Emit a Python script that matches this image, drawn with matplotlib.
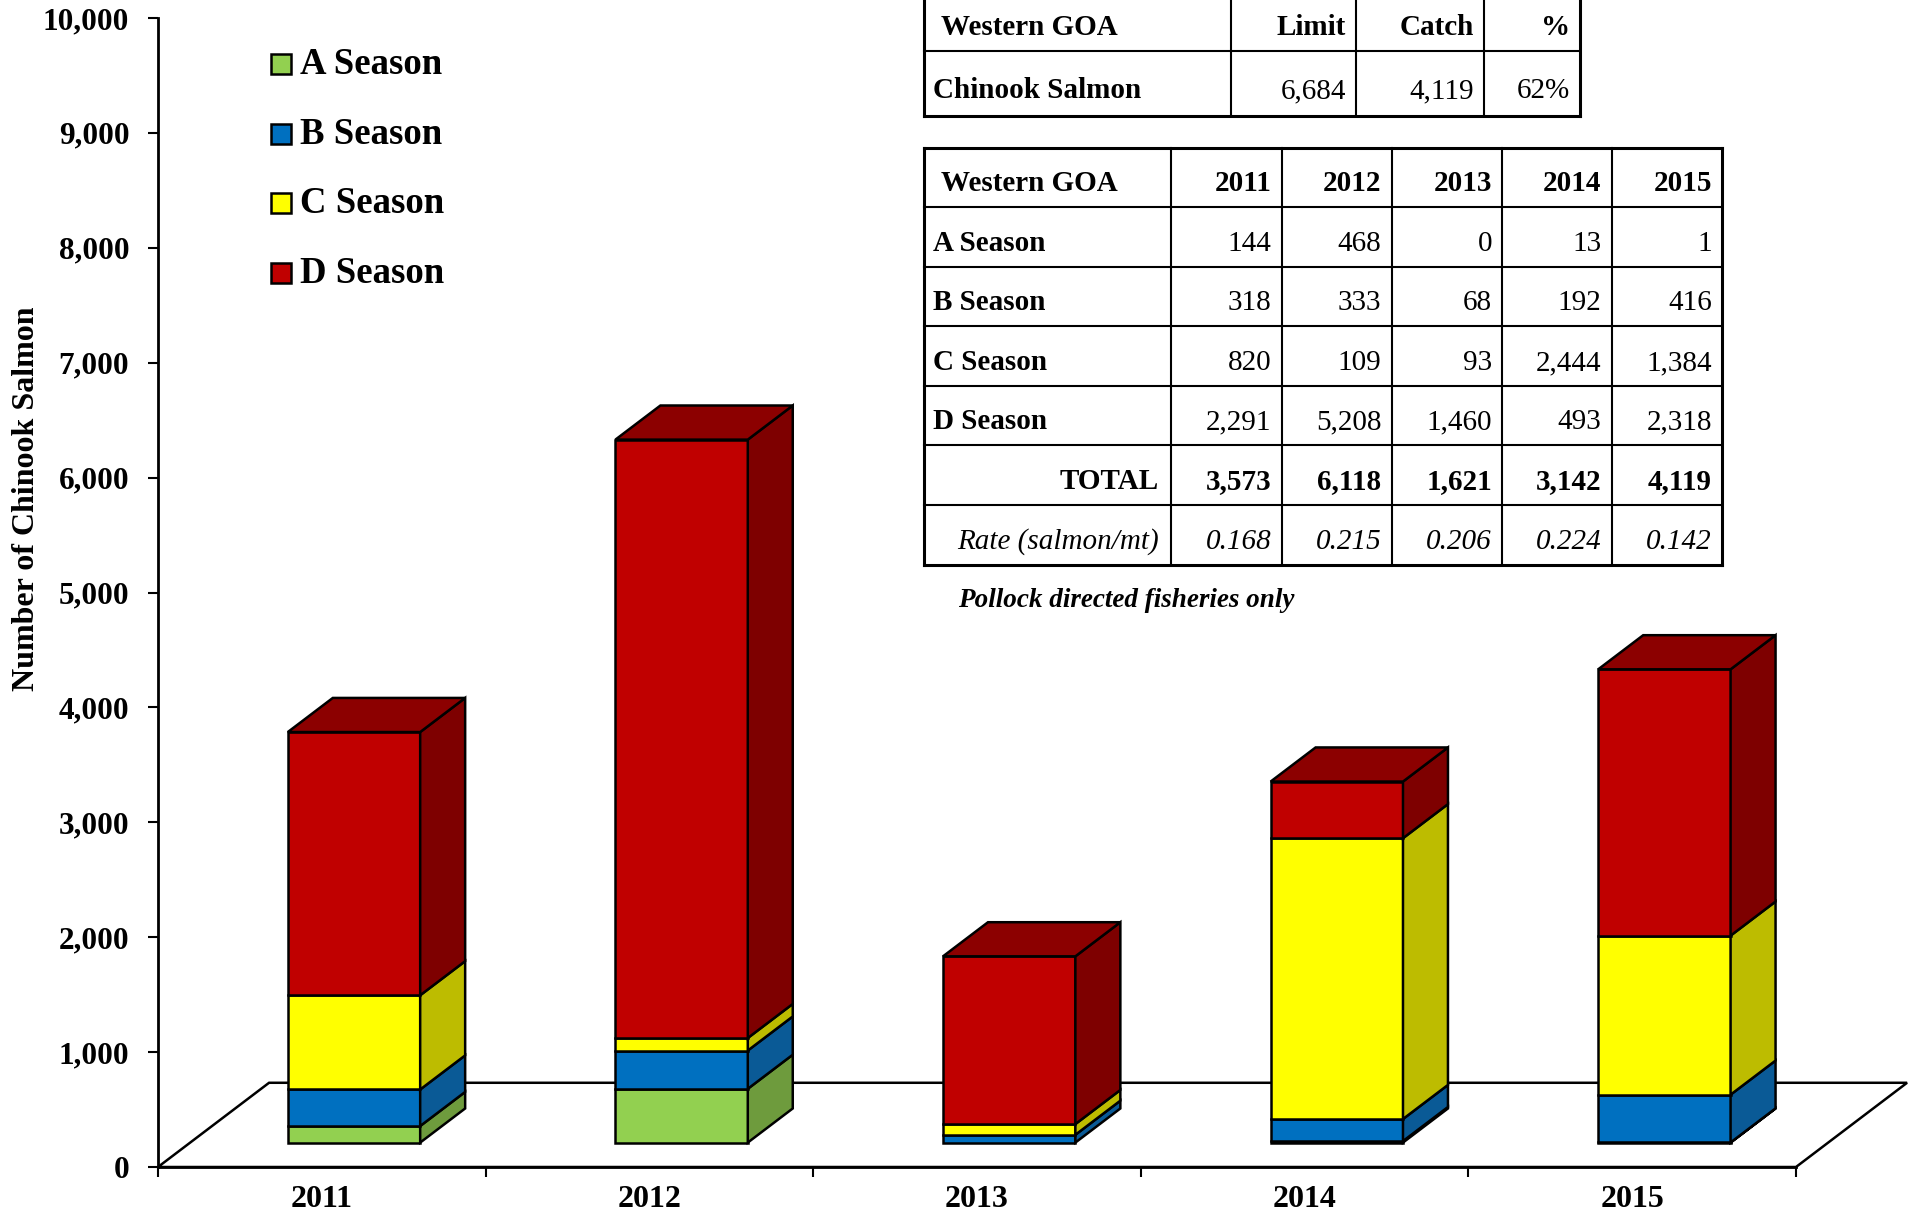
import matplotlib
matplotlib.use('Agg')
import matplotlib.pyplot as plt
from matplotlib.patches import Polygon, Rectangle
from matplotlib.ticker import FuncFormatter

# ---------------- data ----------------
years = ['2011', '2012', '2013', '2014', '2015']
seasons = ['A Season', 'B Season', 'C Season', 'D Season']
a_season = [144, 468, 0, 13, 1]
b_season = [318, 333, 68, 192, 416]
c_season = [820, 109, 93, 2444, 1384]
d_season = [2291, 5208, 1460, 493, 2318]
rates = [0.168, 0.215, 0.206, 0.224, 0.142]
limit_value = 6684
catch_value = 4119
yticks = list(range(0, 10001, 1000))

series = [a_season, b_season, c_season, d_season]
totals = [sum(v) for v in zip(*series)]

# ---------------- styles ----------------
front_colors = ['#92D050', '#0070C0', '#FFFF00', '#C00000']
side_colors = ['#6E9B3D', '#0A5A96', '#BDBC00', '#7E0000']
top_colors = ['#7FB545', '#0A63A8', '#D6D400', '#8C0000']

FONT = 'Liberation Serif'
plt.rcParams['font.family'] = [FONT, 'DejaVu Serif']

W, H = 1917, 1218
fig = plt.figure(figsize=(W / 100, H / 100), dpi=100)
fig.patch.set_facecolor('white')

ax = fig.add_axes([158 / W, 51 / H, 1638 / W, 1149 / H])
ax.set_xlim(0, 5)
ax.set_ylim(0, 10000)
ax.patch.set_alpha(0)

# 3-D geometry (depth in data units)
FLOOR_DX, FLOOR_DY = 0.339, 733
OFF = 0.29      # fraction of depth where bar front sits
DEPTH = 0.405   # fraction of depth taken by bar
BAR_W = 0.404

# floor
floor = Polygon([(0, 0), (5, 0), (5 + FLOOR_DX, FLOOR_DY), (FLOOR_DX, FLOOR_DY)],
                closed=True, facecolor='white', edgecolor='black', lw=1.8,
                clip_on=False, zorder=1)
ax.add_patch(floor)

odx, ody = OFF * FLOOR_DX, OFF * FLOOR_DY
ddx, ddy = DEPTH * FLOOR_DX, DEPTH * FLOOR_DY
EDGE = 1.8
for i in range(len(years)):
    c = i + 0.5
    xl = c - BAR_W / 2 + odx
    xr = c + BAR_W / 2 + odx
    bottom = 0
    top_idx = max(k for k in range(4) if series[k][i] > 0)
    for k in range(4):
        v = series[k][i]
        if v <= 0:
            continue
        yb = ody + bottom
        yt = ody + bottom + v
        ax.add_patch(Rectangle((xl, yb), xr - xl, v, facecolor=front_colors[k],
                               edgecolor='black', lw=EDGE, zorder=3, clip_on=False))
        ax.add_patch(Polygon([(xr, yb), (xr + ddx, yb + ddy), (xr + ddx, yt + ddy), (xr, yt)],
                             closed=True, facecolor=side_colors[k], edgecolor='black',
                             lw=EDGE, zorder=3, clip_on=False))
        if k == top_idx:
            ax.add_patch(Polygon([(xl, yt), (xl + ddx, yt + ddy), (xr + ddx, yt + ddy), (xr, yt)],
                                 closed=True, facecolor=top_colors[k], edgecolor='black',
                                 lw=EDGE, zorder=3, clip_on=False))
        bottom += v

# axes styling
for s in ['top', 'right']:
    ax.spines[s].set_visible(False)
ax.spines['left'].set_linewidth(2)
ax.spines['bottom'].set_linewidth(2)
ax.spines['left'].set_zorder(5)
ax.spines['bottom'].set_zorder(5)

ax.set_yticks(yticks)
ax.yaxis.set_major_formatter(FuncFormatter(lambda v, p: f'{int(v):,}'))
ax.tick_params(axis='y', direction='out', length=7.2, width=1.5, pad=13.5,
               labelsize=22.5)
for t in ax.get_yticklabels():
    t.set_fontweight('bold')

ax.set_xticks(range(6))
ax.set_xticklabels([])
ax.set_xticks([i + 0.5 for i in range(5)], minor=True)
ax.set_xticklabels(years, minor=True, fontsize=23, fontweight='bold')
ax.tick_params(axis='x', which='major', direction='out', length=7.2, width=1.5)
ax.tick_params(axis='x', which='minor', length=0, pad=13)

fig.text(27 / W, 1 - 499 / H, 'Number of Chinook Salmon', rotation=90,
         ha='center', va='center', fontsize=23, fontweight='bold')

# ---------------- overlay (legend & tables) in pixel coords ----------------
ov = fig.add_axes([0, 0, 1, 1], zorder=10)
ov.set_xlim(0, W)
ov.set_ylim(H, 0)
ov.axis('off')
ov.patch.set_alpha(0)

leg_y = [54, 124, 193, 263]
for k, name in enumerate(seasons):
    ov.add_patch(Rectangle((271, leg_y[k]), 20, 20, facecolor=front_colors[k],
                           edgecolor='black', lw=1.8))
    ov.text(300, leg_y[k] + 20, name, fontsize=26.5, fontweight='bold',
            ha='left', va='baseline')


def grid(xs, ys, lw_in=1.5, lw_out=2.2):
    for j, x in enumerate(xs):
        lw = lw_out if j in (0, len(xs) - 1) else lw_in
        ov.plot([x, x], [ys[0], ys[-1]], color='black', lw=lw, clip_on=False,
                solid_capstyle='projecting')
    for j, y in enumerate(ys):
        lw = lw_out if j in (0, len(ys) - 1) else lw_in
        ov.plot([xs[0], xs[-1]], [y, y], color='black', lw=lw, clip_on=False,
                solid_capstyle='projecting')


FS = 21
PAD = 10

# table 1
t1x = [924, 1231, 1356, 1484, 1580]
t1y = [-14, 51, 116]
grid(t1x, t1y)
ov.text(941, 35, 'Western GOA', fontsize=FS, fontweight='bold', ha='left', va='baseline')
for j, lab in enumerate(['Limit', 'Catch', '%']):
    ov.text(t1x[j + 2] - PAD, 35, lab, fontsize=FS, fontweight='bold', ha='right', va='baseline')
ov.text(933, 98, 'Chinook Salmon', fontsize=FS, fontweight='bold', ha='left', va='baseline')
pct = round(100 * catch_value / limit_value)
for j, val in enumerate([f'{limit_value:,}', f'{catch_value:,}', f'{pct}%']):
    ov.text(t1x[j + 2] - PAD, 98, val, fontsize=FS, ha='right', va='baseline')

# table 2
t2x = [924, 1171, 1281.5, 1391.5, 1502, 1611.5, 1722]
t2y = [147.6, 207.1, 266.7, 326.2, 385.7, 445.2, 504.8, 565.1]
grid(t2x, t2y)


def base(r):
    return (t2y[r] + t2y[r + 1]) / 2 + 14


ov.text(941, base(0), 'Western GOA', fontsize=FS, fontweight='bold', ha='left', va='baseline')
for j, y in enumerate(years):
    ov.text(t2x[j + 2] - PAD, base(0), y, fontsize=FS, fontweight='bold', ha='right', va='baseline')
for k, name in enumerate(seasons):
    ov.text(933, base(k + 1), name, fontsize=FS, fontweight='bold', ha='left', va='baseline')
    for j in range(5):
        ov.text(t2x[j + 2] - PAD, base(k + 1), f'{series[k][j]:,}', fontsize=FS,
                ha='right', va='baseline')
ov.text(t2x[1] - 12, base(5), 'TOTAL', fontsize=FS, fontweight='bold', ha='right', va='baseline')
for j in range(5):
    ov.text(t2x[j + 2] - PAD, base(5), f'{totals[j]:,}', fontsize=FS, fontweight='bold',
            ha='right', va='baseline')
ov.text(t2x[1] - 12, base(6), 'Rate (salmon/mt)', fontsize=FS, fontstyle='italic',
        ha='right', va='baseline')
for j in range(5):
    ov.text(t2x[j + 2] - PAD, base(6), f'{rates[j]:.3f}', fontsize=FS, fontstyle='italic',
            ha='right', va='baseline')

ov.text(958, 607, 'Pollock directed fisheries only', fontsize=19.5, fontweight='bold',
        fontstyle='italic', ha='left', va='baseline')

fig.savefig('out.png', dpi=100)
